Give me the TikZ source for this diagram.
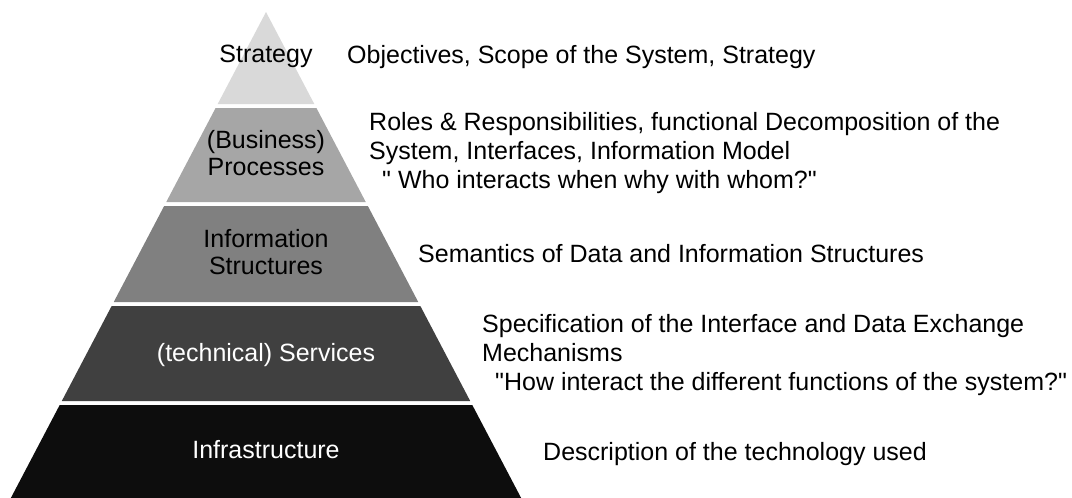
\documentclass[tikz,border=0pt]{standalone}
\usepackage{fontspec}
\setmainfont{Liberation Sans}
\usepackage{tikz}

\begin{document}
\begin{tikzpicture}[x=1pt,y=-1pt]
	 \tikzstyle{layer label}=[inner sep=0pt,align=center,anchor=base,font=\fontsize{25}{27}\selectfont]
	 \tikzstyle{dark label} = [layer label, white]
	 \tikzstyle{description} = [inner sep=0pt,align=left,anchor=base west,font=\fontsize{25}{29}\selectfont]

	\useasboundingbox (0,0) rectangle (1072,498);

	\fill[black!15] (266,12) -- (314.3,104) -- (217.7,104) -- cycle;
	\fill[black!35] (215.6,108) -- (316.4,108) -- (365.75,202) -- (166.25,202) -- cycle;
	\fill[black!50] (164.15,206) -- (367.85,206) -- (418.25,302) -- (113.75,302) -- cycle;
	\fill[black!75] (111.65,306) -- (420.35,306) -- (470.2,401) -- (61.8,401) -- cycle;
	\fill[black!95] (59.7,405) -- (472.3,405) -- (521.15,498) -- (10.85,498) -- cycle;

	\node[layer label] (l1) at (266,62) 		{Strategy};
	\node[layer label] (l2) at (266,175) 		{(Business)\\Processes};
	\node[layer label] (l3) at (266,274)		{Information\\Structures};
	\node[dark label] (l4) at (266,361)		{(technical) Services};
	\node[dark label] (l5) at (266,458)		{Infrastructure};

	\node[description] (d1) at (347,63)		{Objectives, Scope of the System, Strategy};
	\node[description] (d2) at (369,188)	{Roles \& Responsibilities, functional Decomposition of the\\System, Interfaces, Information Model\\\hspace*{13pt}\textquotedbl{} Who interacts when why with whom?\textquotedbl};
	\node[description] (d3) at (418,262)	{Semantics of Data and Information Structures};
	\node[description] (d4) at (482,390)	{Specification of the Interface and Data Exchange\\Mechanisms\\\hspace*{13pt}\textquotedbl How interact the different functions of the system?\textquotedbl};
	\node[description] (d5) at (543,460)	{Description of the technology used};
\end{tikzpicture}
\end{document}
